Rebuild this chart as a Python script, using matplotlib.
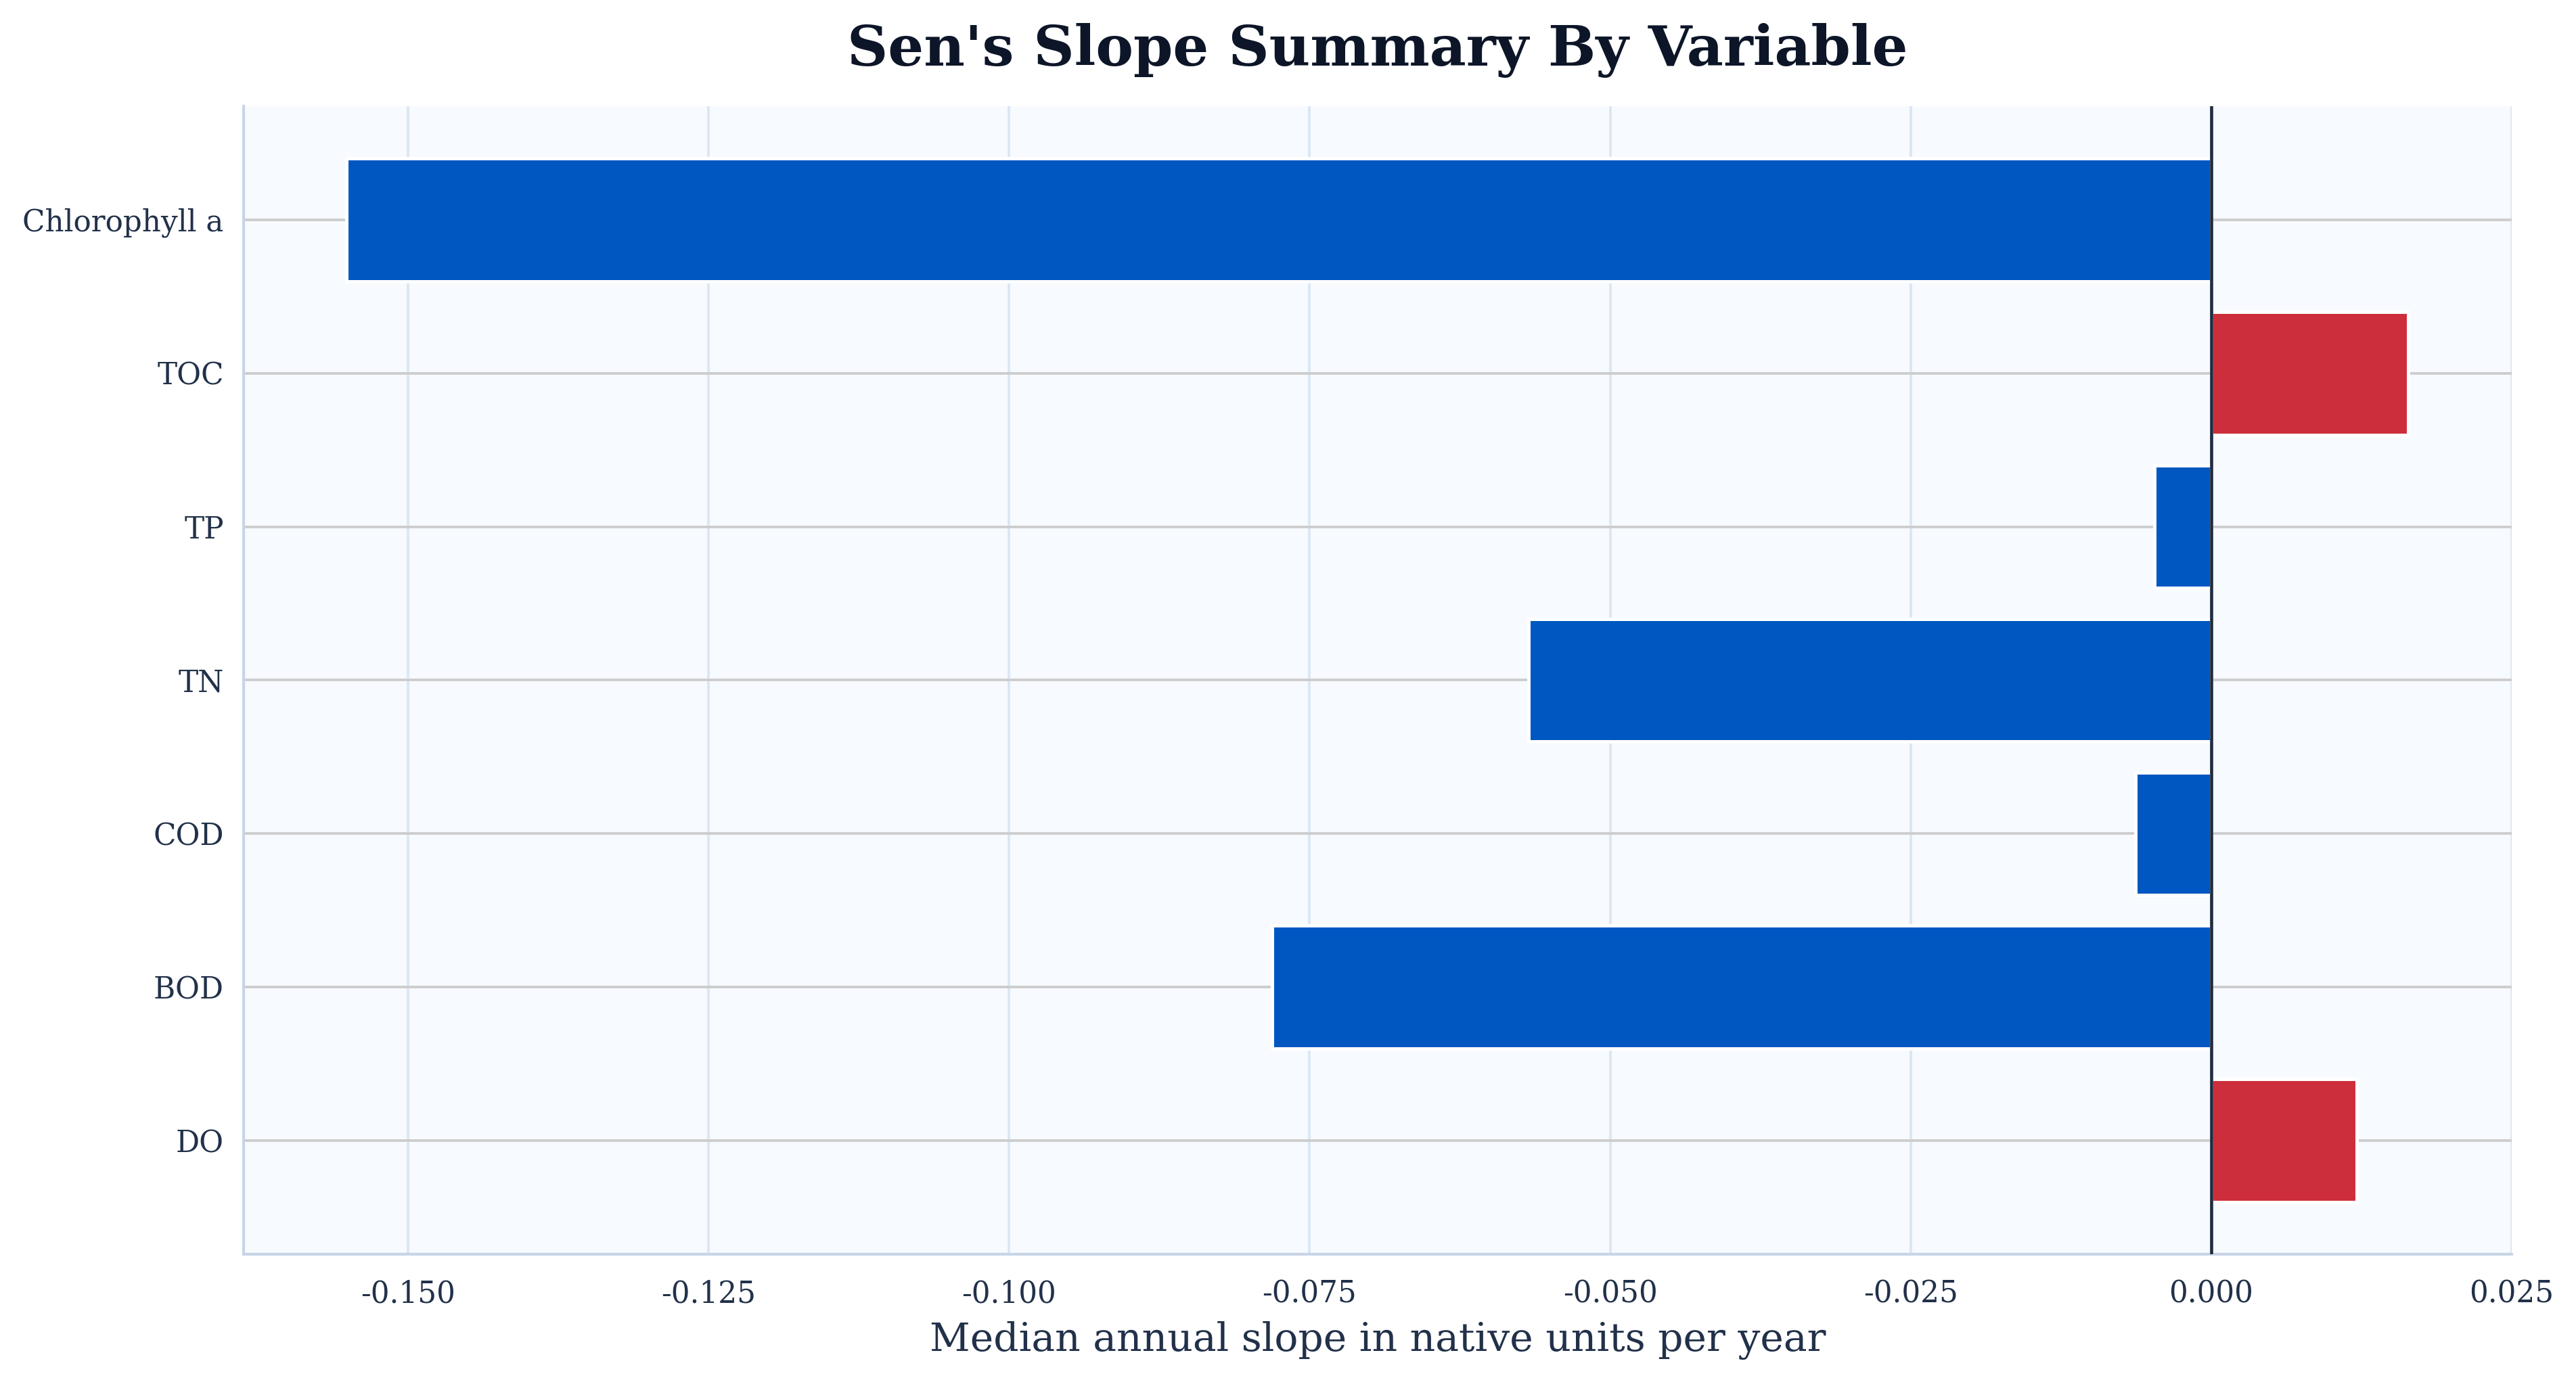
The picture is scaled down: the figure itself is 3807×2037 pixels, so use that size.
import matplotlib
matplotlib.use("Agg")
import matplotlib.pyplot as plt

variables = ["DO", "BOD", "COD", "TN", "TP", "TOC", "Chlorophyll a"]
slopes = [0.0121, -0.0781, -0.0063, -0.0568, -0.0047, 0.0164, -0.1551]

blue = "#0057c1"
red = "#cd2e3b"
colors = [red if s > 0 else blue for s in slopes]

plt.rcParams["font.family"] = ["DejaVu Serif"]

fig = plt.figure(figsize=(3807 / 300, 2037 / 300), dpi=300)
ax = fig.add_axes([360 / 3807, 1 - 1854 / 2037, (3712 - 360) / 3807, (1854 - 157) / 2037])
ax.set_facecolor("#f7fafe")

ax.barh(variables, slopes, height=0.8, color=colors, edgecolor="white", linewidth=1.2, zorder=3)
ax.axvline(0, color="#1e2b40", linewidth=1.1, zorder=4)

ax.grid(axis="x", color="#dbe6f3", linewidth=0.9, zorder=0)
ax.grid(axis="y", color="#cccccc", linewidth=0.9, zorder=1)
ax.set_axisbelow(True)

for s in ["top", "right"]:
    ax.spines[s].set_visible(False)
for s in ["left", "bottom"]:
    ax.spines[s].set_color("#c8d5e8")
    ax.spines[s].set_linewidth(1.0)

ax.set_xticks([-0.150, -0.125, -0.100, -0.075, -0.050, -0.025, 0.000, 0.025])
ax.xaxis.set_major_formatter(matplotlib.ticker.FormatStrFormatter("%.3f"))
ax.tick_params(axis="both", length=0, labelsize=10.5, labelcolor="#22314a")
ax.tick_params(axis="y", pad=7)
ax.tick_params(axis="x", pad=9)

ax.set_xlabel("Median annual slope in native units per year", fontsize=14, color="#22314a", labelpad=4.5)
ax.set_title("Sen's Slope Summary By Variable", fontsize=20, fontweight="bold", color="#0d1628", pad=14.5)

fig.savefig("out.png", dpi=300)
